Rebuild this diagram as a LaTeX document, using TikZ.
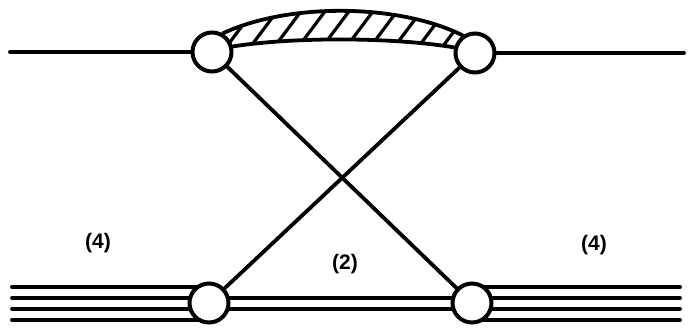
\documentclass[tikz,border=0pt]{standalone}
\usepackage{fontspec}
\setmainfont{Liberation Sans}
\usetikzlibrary{backgrounds}
\tikzset{
  vertex/.style={draw, circle, fill=white, line width=4pt,
    minimum size=39pt, inner sep=0pt},
  prop/.style={line width=3.8pt, line cap=round},
  hatch/.style={line width=3.2pt},
  weight/.style={font=\fontsize{21}{25}\selectfont\bfseries},
}
\begin{document}
\begin{tikzpicture}[x=1pt, y=-1pt]
\useasboundingbox (0,0) rectangle (691,330);

% ---- vertices --------------------------------------------------------------
\node[vertex] (tl) at (212,52) {};
\node[vertex] (tr) at (475,53) {};
\node[vertex] (bl) at (209,303) {};
\node[vertex] (br) at (472,303) {};

% ---- free ends -------------------------------------------------------------
\coordinate (topW) at (10,52);
\coordinate (topE) at (684,53);
\coordinate (botW) at (12,303);
\coordinate (botE) at (680,303);

\begin{scope}[on background layer]
  % single top line
  \draw[prop] (topW) -- (tl.center);
  \draw[prop] (tr.center) -- (topE);
  % four bottom lines
  \foreach \dy in {-17,-6,5,16} {
    \draw[prop] ([yshift=\dy pt]botW) -- ([yshift=\dy pt]bl.center);
    \draw[prop] ([yshift=\dy pt]br.center) -- ([yshift=\dy pt]botE);
  }
  % two lines between the bottom vertices
  \foreach \dy in {-6,5}
    \draw[prop] ([yshift=\dy pt]bl.center) -- ([yshift=\dy pt]br.center);
  % hatched blob
  \begin{scope}
    \clip (tl.60) .. controls (290,2) and (400,4) .. (tr.125)
      -- (tr.center) -- (tr.165) .. controls (400,38) and (300,36) .. (tl.15)
      -- (tl.center) -- cycle;
    \foreach \x in {185,209,...,500}
      \draw[hatch] (\x,70) -- ++(45,-60);
  \end{scope}
  \draw[prop] (tl.60) .. controls (290,2) and (400,4) .. (tr.125);
  \draw[prop] (tr.165) .. controls (400,38) and (300,36) .. (tl.15);
\end{scope}

% ---- crossed lines ---------------------------------------------------------
\draw[prop] (tl) -- (br);
\draw[prop] (tr) -- (bl);

% ---- labels ----------------------------------------------------------------
\node[weight] (lblL) at (98,243) {(4)};
\node[weight] (lblM) at (345,264) {(2)};
\node[weight] (lblR) at (594,245) {(4)};

\end{tikzpicture}
\end{document}
